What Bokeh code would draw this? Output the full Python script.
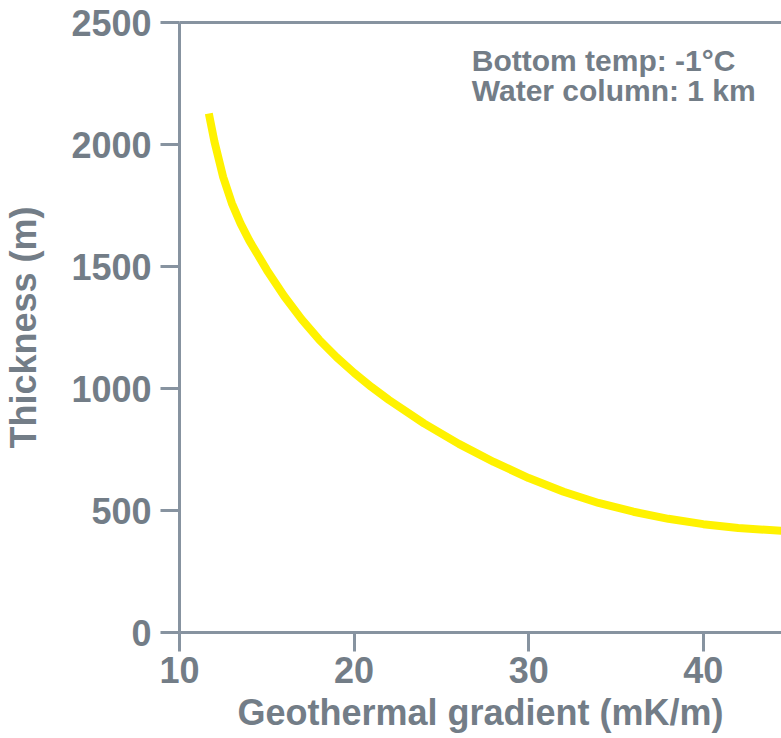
from bokeh.plotting import figure
from bokeh.models import Range1d, FixedTicker, LinearAxis, Label
from bokeh.embed import file_html
from bokeh.resources import INLINE

# Data
gradient = [11.68, 12.0, 12.5, 13.0, 13.5, 14.0, 15.0, 16.0, 17.0, 18.0, 19.0, 20.0, 21.0, 22.0,
            24.0, 26.0, 28.0, 30.0, 32.0, 34.0, 36.0, 38.0, 40.0, 42.0, 44.48]
thickness = [2127, 2012, 1867, 1759, 1676, 1606, 1486, 1378, 1283, 1200, 1128, 1064, 1006, 953,
             857, 773, 699, 633, 577, 531, 495, 466, 444, 428, 417]
x_ticks = [10, 20, 30, 40]
y_ticks = [0, 500, 1000, 1500, 2000, 2500]
notes = ["Bottom temp: -1°C", "Water column: 1 km"]

TEXT = "#737d87"
AXIS = "#8793a0"
FONT = "Liberation Sans"

p = figure(width=781, height=738, output_backend="svg", toolbar_location=None,
           x_range=Range1d(10, 44.48), y_range=Range1d(0, 2500),
           min_border_left=176, min_border_right=0, min_border_top=22, min_border_bottom=106)
p.outline_line_color = None
p.grid.visible = False
p.background_fill_color = "white"

p.line(gradient, thickness, line_color="#fff200", line_width=8, line_cap="butt", line_join="round")

for ax, ticks in ((p.xaxis[0], x_ticks), (p.yaxis[0], y_ticks)):
    ax.ticker = FixedTicker(ticks=ticks)
    ax.axis_line_color = AXIS
    ax.axis_line_width = 3
    ax.major_tick_line_color = AXIS
    ax.major_tick_line_width = 3
    ax.major_tick_in = 0
    ax.major_tick_out = 19
    ax.minor_tick_line_color = None
    ax.major_label_text_font = FONT
    ax.major_label_text_font_size = "36px"
    ax.major_label_text_font_style = "bold"
    ax.major_label_text_color = TEXT
    ax.axis_label_text_font = FONT
    ax.axis_label_text_font_size = "36px"
    ax.axis_label_text_font_style = "bold"
    ax.axis_label_text_color = TEXT

p.xaxis[0].axis_label = "Geothermal gradient (mK/m)"
p.yaxis[0].axis_label = "Thickness (m)"
p.xaxis[0].major_label_standoff = 5
p.xaxis[0].axis_label_standoff = 6
p.yaxis[0].major_label_standoff = 9
p.yaxis[0].axis_label_standoff = 24

top = LinearAxis(ticker=FixedTicker(ticks=[]), axis_line_color=AXIS, axis_line_width=3,
                 major_tick_line_color=None, minor_tick_line_color=None,
                 major_label_text_font_size="0px")
p.add_layout(top, "above")

for i, t in enumerate(notes):
    p.add_layout(Label(x=26.74, y=2344 - 123 * i, text=t, text_font=FONT, text_font_size="30px",
                       text_font_style="bold", text_color=TEXT, text_baseline="alphabetic"))

open("out.html", "w").write(file_html(p, INLINE))
